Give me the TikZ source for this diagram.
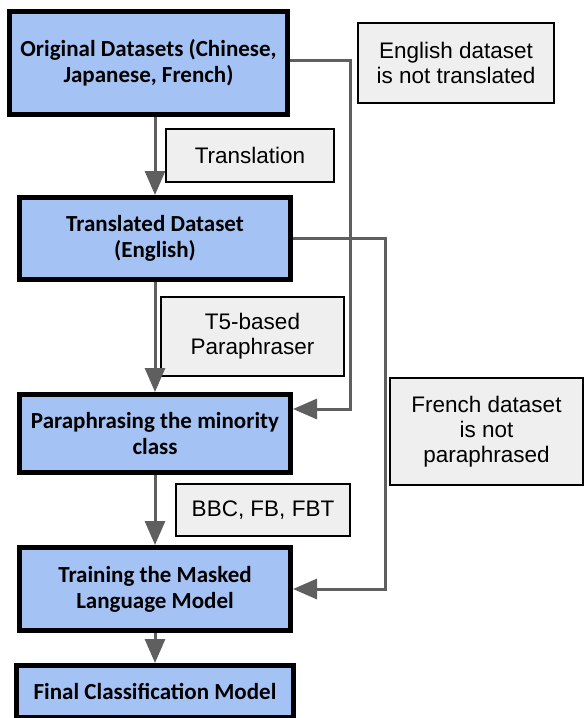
\documentclass[tikz,border=0pt]{standalone}
\usepackage{fontspec}
\setmainfont{Liberation Sans}
\newfontfamily\calibri{Carlito}
\usepackage{xcolor}
\usepackage{tikz}
\usetikzlibrary{arrows.meta}
\definecolor{stepblue}{HTML}{A4C2F4}
\definecolor{notegray}{HTML}{EFEFEF}
\definecolor{flowgray}{HTML}{5F5F5F}

\begin{document}
\begin{tikzpicture}[x=1pt, y=-1pt]
\tikzset{stagebox/.style={draw, line width=5pt, fill=stepblue, inner sep=0pt, align=center,
  font=\calibri\bfseries\fontsize{23}{26}\selectfont}}
\tikzset{notebox/.style={draw, line width=2pt, fill=notegray, inner sep=0pt, align=center,
  font=\fontsize{22.5}{25}\selectfont}}
\tikzset{flowline/.style={draw=flowgray, line width=3pt, -{Triangle[length=24pt, width=20pt]}}}
\useasboundingbox (0,0) rectangle (584,718);
\node[stagebox, minimum width=278pt, minimum height=103pt] (orig) at (148.5,63) {Original Datasets (Chinese,\\ Japanese, French)};
\node[stagebox, minimum width=271pt, minimum height=82pt] (trans) at (155,238.5) {Translated Dataset\\ (English)};
\node[stagebox, minimum width=271pt, minimum height=78pt] (para) at (155,433.5) {Paraphrasing the minority\\ class};
\node[stagebox, minimum width=271pt, minimum height=83pt] (train) at (155,589) {Training the Masked\\ Language Model};
\node[stagebox, minimum width=277pt, minimum height=52pt] (final) at (155,691.5) {Final Classification Model};
\node[notebox, minimum width=196pt, minimum height=80pt] (english) at (456,63) {English dataset\\ is not translated};
\node[notebox, minimum width=168pt, minimum height=53pt] (translation) at (250,155.5) {Translation};
\node[notebox, minimum width=183pt, minimum height=79pt] (t5) at (252.5,336.5) {T5-based\\ Paraphraser};
\node[notebox, minimum width=193pt, minimum height=107pt] (french) at (486.5,431.5) {French dataset\\ is not\\ paraphrased};
\node[notebox, minimum width=174pt, minimum height=52pt] (bbc) at (263,510) {BBC, FB, FBT};
\coordinate (engbend) at (350,409);
\coordinate (frbend) at (385,589);
\draw[flowline] (orig.south -| trans.north) -- (trans.north);
\draw[flowline] (trans.south) -- (para.north);
\draw[flowline] (para.south) -- (train.north);
\draw[flowline] (train.south) -- (final.north);
\draw[flowline] ([yshift=3pt]orig.east) -| (engbend) -- (engbend -| para.east);
\draw[flowline] (trans.east) -| (frbend) -- (frbend -| train.east);
\end{tikzpicture}
\end{document}
